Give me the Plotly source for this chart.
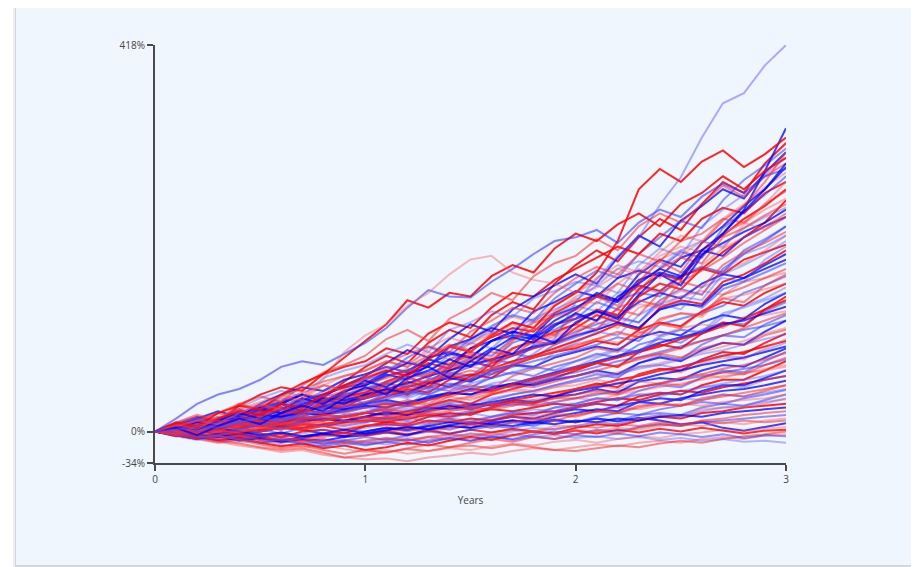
import plotly.graph_objects as go

# ---- data: simulated cumulative return (%) sampled every 0.1 year ----
years = [0.0, 0.1, 0.2, 0.3, 0.4, 0.5, 0.6, 0.7, 0.8, 0.9, 1.0,
         1.1, 1.2, 1.3, 1.4, 1.5, 1.6, 1.7, 1.8, 1.9, 2.0,
         2.1, 2.2, 2.3, 2.4, 2.5, 2.6, 2.7, 2.8, 2.9, 3.0]

y_tick_values = [-34, 0, 418]
y_tick_labels = ["-34%", "0%", "418%"]
x_tick_values = [0, 1, 2, 3]
x_tick_labels = ["0", "1", "2", "3"]
x_title = "Years"

high_paths = [
    [0,6,2,12,20,14,24,36,30,42,55,48,62,70,58,76,90,84,104,96,118,130,122,148,170,158,190,214,240,282,328],
    [0,8,4,14,22,18,30,26,40,50,58,66,60,78,92,86,104,118,112,136,150,172,206,262,284,270,292,304,286,300,318],
    [0,10,6,20,28,24,40,52,62,80,99,116,142,134,150,146,168,180,172,198,214,206,224,236,222,246,258,276,262,282,296],
    [0,14,30,40,46,56,70,76,72,84,96,112,134,153,146,145,162,176,192,206,210,218,204,226,240,232,254,268,258,276,284],
    [0,6,12,8,20,30,38,34,56,86,104,116,136,150,170,186,190,172,164,160,150,162,176,170,190,200,194,214,226,218,236],
    [0,-4,6,12,4,16,24,18,34,42,36,52,60,50,72,84,76,98,112,104,128,146,136,162,184,172,204,228,244,270,302],
    [0,4,-4,6,14,8,20,28,22,36,48,40,58,66,78,70,88,102,96,114,128,120,146,160,176,168,196,214,238,262,290],
    [0,7,2,16,24,30,24,38,50,44,58,70,64,82,92,86,104,116,108,126,144,138,160,176,166,190,206,198,224,246,270],
]
upper_paths = [
    [0,8,2,14,24,16,30,40,36,54,70,82,74,96,110,102,126,140,132,160,180,196,184,210,230,218,246,270,258,290,312],
    [0,-4,6,14,8,20,30,22,38,50,60,74,88,80,100,116,108,132,146,158,170,160,188,212,200,228,244,262,252,280,302],
    [0,10,18,12,30,38,32,50,64,72,82,100,110,98,122,134,150,142,168,182,190,208,196,222,236,226,246,266,254,276,290],
    [0,3,-4,8,18,26,16,32,40,48,56,64,80,92,82,100,114,126,120,144,160,174,166,192,210,228,220,250,272,288,306],
    [0,6,14,8,24,32,40,34,50,60,66,76,70,90,102,94,112,124,118,138,150,166,180,172,194,212,206,230,246,264,280],
    [0,-5,3,10,2,14,24,30,24,40,46,60,68,62,84,96,90,110,122,132,142,158,150,180,198,190,222,240,256,278,296],
    [0,8,16,10,28,40,48,44,62,70,76,90,84,106,118,112,134,150,146,164,176,188,200,192,214,206,230,242,236,258,270],
    [0,4,10,4,16,24,30,40,32,44,50,62,56,72,84,80,98,108,102,120,132,150,142,170,186,178,204,222,244,262,286],
    [0,3,12,20,14,28,34,42,50,46,60,74,84,92,86,108,120,134,128,150,166,178,170,192,184,206,214,230,226,246,260],
    [0,-3,6,0,12,18,26,20,30,38,42,50,58,52,70,80,76,96,104,110,122,140,132,162,176,194,188,220,238,256,276],
    [0,5,0,12,20,28,22,36,42,50,56,66,74,86,78,96,106,118,112,130,146,156,170,162,186,196,188,214,226,240,252],
    [0,9,16,10,26,36,44,38,58,66,72,84,94,86,110,118,130,124,144,152,162,158,176,184,178,196,206,200,220,232,242],
    [0,-4,-8,2,8,14,6,20,28,32,36,44,54,48,66,76,70,90,98,108,116,132,126,154,170,164,196,212,230,244,262],
    [0,6,12,6,18,26,20,34,40,48,52,64,74,70,92,100,112,106,130,140,152,146,166,174,168,188,196,190,210,222,232],
    [0,5,12,20,30,24,38,46,54,60,66,76,70,82,94,88,106,100,118,124,132,146,160,152,176,188,182,210,220,234,246],
    [0,3,10,16,10,22,28,36,30,40,46,54,64,58,78,86,82,100,110,116,126,120,142,150,146,168,178,172,196,208,222],
    [0,-3,-6,0,6,12,6,16,24,28,32,38,48,44,62,70,66,88,96,104,112,126,120,148,160,154,180,198,210,222,236],
    [0,8,4,14,22,28,36,32,44,50,56,68,76,70,90,98,108,102,120,128,136,130,150,156,150,172,178,172,192,200,212],
    [0,4,10,4,16,22,26,20,32,38,42,54,62,74,68,90,102,112,108,128,140,148,142,158,152,168,176,170,186,194,202],
    [0,6,14,22,16,30,40,48,44,56,62,70,64,80,86,80,98,104,100,116,122,130,124,140,150,144,160,170,166,180,192],
    [0,2,-3,8,14,20,30,24,40,48,52,58,66,60,74,82,78,90,98,94,106,120,132,126,150,162,156,180,194,204,216],
    [0,5,10,4,14,18,24,20,28,34,36,46,40,56,64,60,76,84,80,94,102,110,118,112,132,140,134,154,162,172,182],
    [0,-2,5,12,18,14,26,30,36,44,46,54,62,58,78,86,80,100,110,116,122,128,124,138,134,146,152,148,162,166,172],
    [0,-5,-9,-4,2,8,2,12,16,22,26,32,28,44,50,46,62,72,68,86,96,108,104,126,138,132,156,166,162,186,200],
    [0,-5,0,6,10,16,10,22,28,26,38,44,40,52,60,56,74,82,90,96,112,126,118,146,160,154,176,194,210,226,250],
    [0,5,12,6,18,26,32,40,32,44,50,60,66,78,72,90,98,108,104,126,134,146,140,164,172,166,192,204,216,226,240],
    [0,3,8,14,8,18,26,20,32,38,44,52,48,62,68,78,86,82,98,106,116,110,134,142,136,162,174,188,204,218,232],
    [0,-4,4,8,2,12,20,26,32,38,30,42,50,46,62,70,78,74,94,98,108,116,124,118,142,154,148,176,192,206,222],
    [0,4,10,14,22,16,26,32,38,44,48,44,56,64,70,78,74,90,96,102,110,118,112,134,140,152,148,174,182,196,212],
    [0,3,6,12,18,24,30,26,34,40,46,52,58,64,70,76,70,82,90,98,104,112,122,118,138,146,142,170,180,192,206],
    [0,-3,-7,-2,5,12,8,16,24,30,36,42,48,54,48,60,68,76,82,90,98,106,116,110,134,142,138,162,170,182,196],
    [0,5,2,10,16,12,20,28,34,30,40,46,52,60,66,72,78,84,92,96,104,110,118,112,132,138,136,158,166,176,186],
    [0,2,8,4,12,18,26,22,30,36,42,48,44,54,60,66,62,72,80,86,92,100,108,102,122,128,126,148,156,166,176],
    [0,-4,-1,4,10,6,14,20,18,26,32,38,44,40,50,56,62,70,76,82,88,94,102,98,116,122,128,136,150,158,168],
    [0,4,8,14,8,16,22,28,32,38,36,44,50,56,62,58,68,74,80,88,94,100,106,102,120,128,124,144,148,154,160],
    [0,2,-3,5,12,16,12,20,26,22,30,36,42,48,44,52,58,64,70,66,76,82,90,86,104,110,108,128,134,142,150],
]
mid_paths = [
    [0,4,-2,8,14,10,18,24,20,28,30,38,46,42,56,62,58,72,80,86,90,98,94,110,118,114,130,140,136,150,160],
    [0,6,12,8,18,24,20,30,36,34,40,46,42,52,58,54,66,72,70,80,86,92,88,102,108,104,118,126,122,138,150],
    [0,-2,4,0,8,12,6,14,18,16,20,28,34,30,42,50,46,60,68,74,80,90,86,106,116,112,130,144,140,158,170],
    [0,3,8,14,10,18,24,20,28,32,36,42,38,48,52,48,58,64,60,70,76,84,80,94,100,96,110,118,116,130,140],
    [0,5,0,8,14,10,16,22,18,26,26,34,42,48,44,58,66,72,80,86,94,100,96,108,104,112,116,112,124,126,130],
    [0,6,14,10,20,28,24,34,40,38,46,52,48,56,62,58,66,62,70,66,70,80,88,84,102,110,106,124,136,144,156],
    [0,-3,2,-2,4,8,4,10,14,10,16,22,18,28,34,30,40,46,52,58,66,74,70,86,94,90,106,118,114,132,146],
    [0,4,10,6,14,18,16,22,26,24,30,34,30,38,42,40,48,52,50,56,60,66,62,74,80,76,88,96,94,108,120],
    [0,-1,5,2,8,12,8,14,18,16,20,26,32,28,38,44,42,52,58,62,70,74,70,80,84,80,90,96,94,104,110],
    [0,-4,-1,-6,-2,2,-2,4,8,6,10,16,12,22,28,26,34,40,44,50,56,62,58,74,82,78,94,104,102,116,126],
    [0,3,8,4,10,14,12,18,22,20,26,30,26,34,38,34,42,46,44,48,50,56,52,62,66,64,74,80,78,90,100],
    [0,6,12,8,16,22,18,26,30,28,36,40,36,44,48,44,52,56,52,58,60,64,60,70,72,68,78,82,80,88,96],
    [0,-3,-6,-2,-6,-2,-6,0,2,-2,6,10,8,16,20,18,26,32,30,38,46,52,48,62,68,66,78,86,84,96,106],
    [0,2,6,2,8,10,6,12,14,12,16,20,18,24,28,24,30,34,32,38,40,46,42,54,58,56,66,72,70,80,90],
    [0,3,-1,5,10,6,12,16,14,18,20,24,20,26,30,26,30,34,30,36,36,42,40,48,52,50,58,64,62,72,80],
    [0,-3,-7,-4,-9,-6,-10,-6,-3,-6,0,4,2,8,12,10,16,20,18,26,30,36,34,44,50,48,58,66,64,76,86],
    [0,2,-2,4,0,6,2,8,6,12,10,16,14,22,26,24,30,36,34,40,46,50,46,54,52,58,62,58,64,66,70],
    [0,4,8,6,12,16,14,18,22,20,26,22,28,24,30,26,32,28,34,30,30,36,34,40,42,40,48,50,48,56,60],
    [0,-2,2,-2,4,0,4,2,6,2,6,8,6,12,10,14,12,18,20,22,26,30,28,38,42,40,50,56,56,66,76],
    [0,-4,-8,-5,-10,-7,-11,-8,-10,-6,-4,-1,-4,2,6,4,10,12,10,16,20,24,22,32,36,34,44,50,50,58,66],
    [0,3,-1,5,8,6,10,14,12,16,16,12,16,10,14,8,12,16,12,18,16,22,20,28,30,28,36,40,38,44,50],
    [0,-2,2,-3,0,-4,-1,-5,-2,2,0,4,0,6,2,8,4,10,6,12,10,14,12,18,20,18,26,30,28,34,40],
    [0,-3,-6,-4,-8,-11,-8,-12,-9,-13,-10,-7,-10,-5,-8,-2,-4,2,0,6,6,10,8,14,18,16,24,26,26,30,36],
    [0,4,0,6,2,8,4,10,6,12,10,14,10,16,14,20,16,22,20,26,26,30,26,32,30,36,34,40,38,42,46],
    [0,-2,2,6,4,10,14,12,18,22,26,30,28,34,40,46,44,50,56,62,68,74,80,86,92,100,106,114,122,132,142],
    [0,3,6,4,8,12,16,20,18,24,28,26,32,36,42,40,46,52,58,64,70,76,82,88,96,102,108,116,120,128,135],
    [0,-3,-6,-4,0,4,2,8,12,16,20,24,22,28,34,38,44,50,48,54,60,66,72,78,84,90,98,104,112,120,128],
    [0,2,5,9,6,12,16,14,20,24,28,32,30,36,40,46,50,48,54,60,64,70,76,80,86,92,98,104,110,114,120],
    [0,-1,3,1,6,10,8,12,16,14,20,24,28,26,32,36,40,44,42,48,54,58,64,70,74,80,86,92,98,106,112],
    [0,4,2,6,10,8,12,16,14,18,22,26,24,28,32,30,36,40,44,50,54,58,62,68,72,78,84,88,94,100,105],
    [0,-4,-2,-6,-2,2,6,4,8,12,16,14,18,22,26,30,28,34,38,42,46,50,56,60,66,70,76,82,86,92,98],
    [0,2,6,4,8,6,10,14,12,16,20,18,22,26,24,28,32,36,40,38,44,48,52,56,62,66,72,76,80,86,92],
    [0,1,-3,2,-1,4,8,6,10,8,12,16,20,18,22,26,24,28,32,36,40,44,42,48,52,58,62,68,72,78,85],
    [0,-2,-5,-2,2,0,4,8,6,10,14,12,16,20,18,22,26,30,28,32,36,40,44,48,52,56,60,64,68,72,78],
    [0,3,1,5,8,6,10,8,12,16,14,18,16,20,24,22,26,30,28,32,36,34,40,44,48,52,56,60,62,68,72],
    [0,-1,-4,-8,-5,-2,-6,-2,2,0,4,8,6,10,14,12,16,20,24,22,28,32,36,40,38,44,48,52,56,60,66],
    [0,2,4,0,3,6,4,8,6,10,12,10,14,18,16,20,24,22,26,30,28,32,36,34,40,44,42,48,52,56,60],
    [0,-3,-6,-3,-8,-5,-10,-6,-2,-5,0,4,2,6,10,8,12,16,14,20,24,22,28,32,30,36,40,44,46,50,55],
]
low_paths = [
    [0,-2,-5,-8,-4,-9,-6,-10,-6,-2,-5,-1,3,0,4,8,6,10,14,12,18,22,20,26,30,28,34,38,42,46,50],
    [0,1,-3,-6,-3,-8,-12,-9,-14,-10,-6,-9,-4,0,-3,2,6,4,8,12,10,16,20,18,24,28,32,30,36,40,45],
    [0,-2,2,-1,3,0,4,2,6,3,8,5,10,8,12,10,14,18,16,20,18,22,26,24,28,30,28,32,34,36,40],
    [0,-3,-7,-4,-9,-12,-8,-13,-10,-15,-11,-14,-9,-12,-6,-2,-5,0,4,2,6,10,8,14,18,16,22,26,28,32,35],
    [0,-1,-5,-9,-7,-12,-16,-13,-18,-15,-20,-17,-12,-15,-10,-6,-9,-4,0,-2,4,8,6,12,16,14,20,22,26,28,30],
    [0,2,-1,3,0,-4,-1,-5,-2,2,-2,1,5,2,6,4,8,6,10,8,12,10,14,12,16,18,16,20,22,24,26],
    [0,-4,-8,-12,-9,-14,-18,-15,-20,-24,-20,-23,-18,-14,-17,-12,-8,-11,-6,-8,-3,0,-2,4,8,6,12,14,18,20,22],
    [0,-2,-6,-4,-9,-7,-11,-8,-13,-10,-14,-11,-8,-12,-7,-10,-5,-8,-3,0,-3,2,0,5,8,6,10,12,14,16,18],
    [0,-3,-1,-5,-8,-5,-10,-7,-12,-9,-13,-10,-6,-9,-4,-7,-2,-5,0,-3,2,0,4,2,6,8,6,10,8,12,14],
]
bottom_paths = [
    [0,-3,-7,-11,-15,-18,-22,-20,-25,-28,-30,-29,-32,-28,-26,-23,-25,-21,-18,-20,-17,-14,-16,-12,-10,-12,-8,-6,-8,-4,-3],
    [0,-4,-6,-10,-13,-17,-20,-18,-23,-28,-26,-22,-19,-21,-17,-15,-18,-14,-17,-20,-21,-18,-15,-17,-13,-10,-12,-8,-5,-3,0],
    [0,-2,-5,-4,-8,-12,-10,-14,-11,-9,-12,-8,-10,-6,-9,-5,-7,-3,-6,-4,-7,-5,-8,-6,-9,-7,-10,-8,-11,-10,-12],
    [0,-2,2,-1,-4,0,4,2,-2,-5,-2,2,5,3,7,10,8,12,9,13,10,14,11,15,12,8,10,4,1,5,9],
    [0,-3,-6,-9,-12,-10,-14,-17,-15,-19,-22,-20,-24,-21,-18,-20,-16,-13,-15,-11,-9,-12,-8,-5,-7,-3,-1,2,0,3,5],
    [0,-1,-4,-2,-6,-9,-7,-11,-8,-12,-10,-7,-10,-6,-3,-5,-1,2,0,3,6,4,8,6,10,7,11,9,12,10,12],
    [0,-3,-6,-10,-8,-12,-9,-13,-16,-12,-15,-11,-14,-10,-7,-10,-6,-9,-5,-8,-4,-6,-2,-5,-1,-3,-6,-3,-7,-4,-5],
    [0,2,-2,1,-3,-6,-3,-7,-4,-1,-4,0,-3,1,-2,2,-1,3,0,-3,1,-2,2,-1,3,0,4,1,-2,1,2],
]
outlier_path = [0,2,6,4,10,14,12,18,22,26,30,36,42,40,48,56,64,72,84,100,140,165,190,210,245,275,318,355,366,396,418]

# ---- styles ----
palette = [
    "rgba(255,0,0,0.85)", "rgba(0,0,255,0.75)", "rgba(255,40,40,0.55)",
    "rgba(40,40,255,0.5)", "rgba(255,80,80,0.42)", "rgba(80,80,255,0.4)",
]
high_colors = ["rgba(0,0,255,0.75)", "rgba(255,0,0,0.85)", "rgba(255,0,0,0.85)", "rgba(40,40,255,0.55)",
               "rgba(255,90,90,0.4)", "rgba(255,40,40,0.55)", "rgba(0,0,255,0.75)", "rgba(255,80,80,0.4)"]
bottom_colors = ["rgba(255,80,80,0.45)", "rgba(255,40,40,0.55)", "rgba(80,80,255,0.4)",
                 "rgba(0,0,255,0.75)", "rgba(255,80,80,0.4)", "rgba(255,40,40,0.55)",
                 "rgba(40,40,255,0.5)", "rgba(255,0,0,0.8)"]
outlier_color = "rgba(80,80,255,0.45)"
LINE_W = 2.0

fig = go.Figure()

middle = upper_paths + mid_paths + low_paths
middle_colors = [palette[i % len(palette)] for i in range(len(middle))]
order = []
for start in range(3):
    order.extend(range(start, len(middle), 3))


def add_line(path, color):
    fig.add_trace(go.Scatter(x=years, y=path, mode="lines",
                             line=dict(color=color, width=LINE_W),
                             hoverinfo="skip", showlegend=False))


for path, col in zip(bottom_paths, bottom_colors):
    add_line(path, col)
for i in order:
    add_line(middle[i], middle_colors[i])
for path, col in zip(high_paths, high_colors):
    add_line(path, col)
add_line(outlier_path, outlier_color)

# figure sits inside the page body (8px default margin)
W, H = 911, 559
L, T = 147, 37
pw, ph = 631, 418
R, B = W - L - pw, H - T - ph


def px(xp):
    return (xp - L) / pw


def py(yp):
    return (H - B - yp) / ph


fig.update_layout(
    width=W, height=H,
    margin=dict(l=L, r=R, t=T, b=B),
    paper_bgcolor="white",
    plot_bgcolor="rgba(0,0,0,0)",
    font=dict(family="Open Sans, DejaVu Sans, sans-serif", size=10, color="#444"),
    shapes=[
        dict(type="rect", xref="paper", yref="paper", layer="below",
             x0=px(5), x1=px(911), y0=py(559), y1=py(0),
             fillcolor="#eceef1", line=dict(width=0)),
        dict(type="rect", xref="paper", yref="paper", layer="below",
             x0=px(7), x1=px(909), y0=py(559), y1=py(0),
             fillcolor="#d3d6da", line=dict(width=0)),
        dict(type="rect", xref="paper", yref="paper", layer="below",
             x0=px(8), x1=px(907), y0=py(557), y1=py(0),
             fillcolor="#eff6fd", line=dict(width=0)),
    ],
    xaxis=dict(range=[0, 3], tickvals=x_tick_values, ticktext=x_tick_labels,
               showgrid=False, zeroline=False, showline=True, linecolor="#4a4a4a",
               linewidth=2, ticks="outside", ticklen=6, tickwidth=2, tickcolor="#4a4a4a",
               title=dict(text=x_title, font=dict(size=10, color="#444"), standoff=12),
               fixedrange=True),
    yaxis=dict(range=[-34, 418], tickvals=y_tick_values, ticktext=y_tick_labels,
               showgrid=False, zeroline=False, showline=True, linecolor="#4a4a4a",
               linewidth=2, ticks="outside", ticklen=6, tickwidth=2, tickcolor="#4a4a4a",
               fixedrange=True),
)

fig.write_html("out.html", config={"displayModeBar": False})
